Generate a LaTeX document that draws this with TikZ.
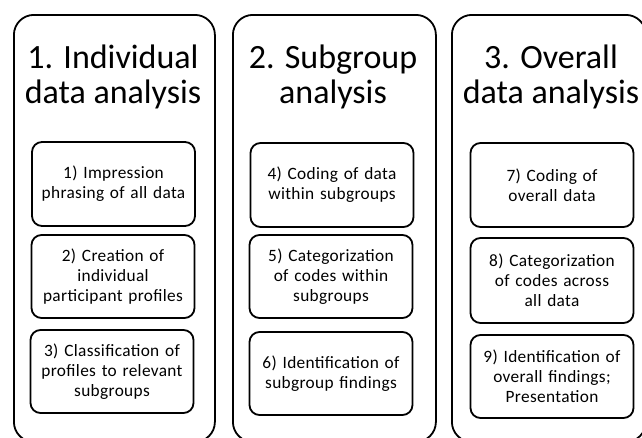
\documentclass[tikz,border=0pt]{standalone}
\usepackage{fontspec}
\setmainfont{Carlito}
\newfontfamily\stepfont[LetterSpace=2]{Carlito}
\begin{document}
\begin{tikzpicture}[x=1pt,y=-1pt,
  outer/.style={draw, line width=1.8pt, rounded corners=20pt, anchor=north west, inner sep=0pt},
  inbox/.style={draw, line width=1.8pt, rounded corners=10pt, minimum width=163pt, minimum height=83pt,
    text width=160pt, align=center, inner sep=0pt, font=\stepfont\fontsize{17.3}{20}\selectfont},
  title/.style={align=center, font=\fontsize{34}{35}\selectfont, inner sep=0pt, anchor=base}]
\useasboundingbox (0,0) rectangle (642,437);
% outer groups
\node[outer, minimum width=201pt, minimum height=427pt] (g1) at (13,14) {};
\node[outer, minimum width=203pt, minimum height=427pt] (g2) at (232,14) {};
\node[outer, minimum width=194pt, minimum height=427pt] (g3) at (451,14) {};
% titles
\node[title] (t1) at (113,103) {1. Individual\\data analysis};
\node[title] (t2) at (333,103) {2. Subgroup\\analysis};
\node[title] (t3) at (551,103) {3. Overall\\data analysis};
% steps column 1
\node[inbox, minimum height=84pt] (s1) at (113.5,184) {1) Impression\\phrasing of all data};
\node[inbox] (s2) at (113,276.5) {2) Creation of\\individual\\participant profiles};
\node[inbox] (s3) at (112,371.5) {3) Classification of\\profiles to relevant\\subgroups};
% steps column 2
\node[inbox, minimum height=84pt] (s4) at (332,185) {4) Coding of data\\within subgroups};
\node[inbox] (s5) at (331,276.5) {5) Categorization\\of codes within\\subgroups};
\node[inbox] (s6) at (331,373.5) {6) Identification of\\subgroup findings};
% steps column 3
\node[inbox, minimum height=84pt] (s7) at (552,185) {7) Coding of\\overall data};
\node[inbox, minimum height=85pt] (s8) at (552,280.5) {8) Categorization\\of codes across\\all data};
\node[inbox] (s9) at (552,376.5) {9) Identification of\\overall findings;\\Presentation};
\end{tikzpicture}
\end{document}
